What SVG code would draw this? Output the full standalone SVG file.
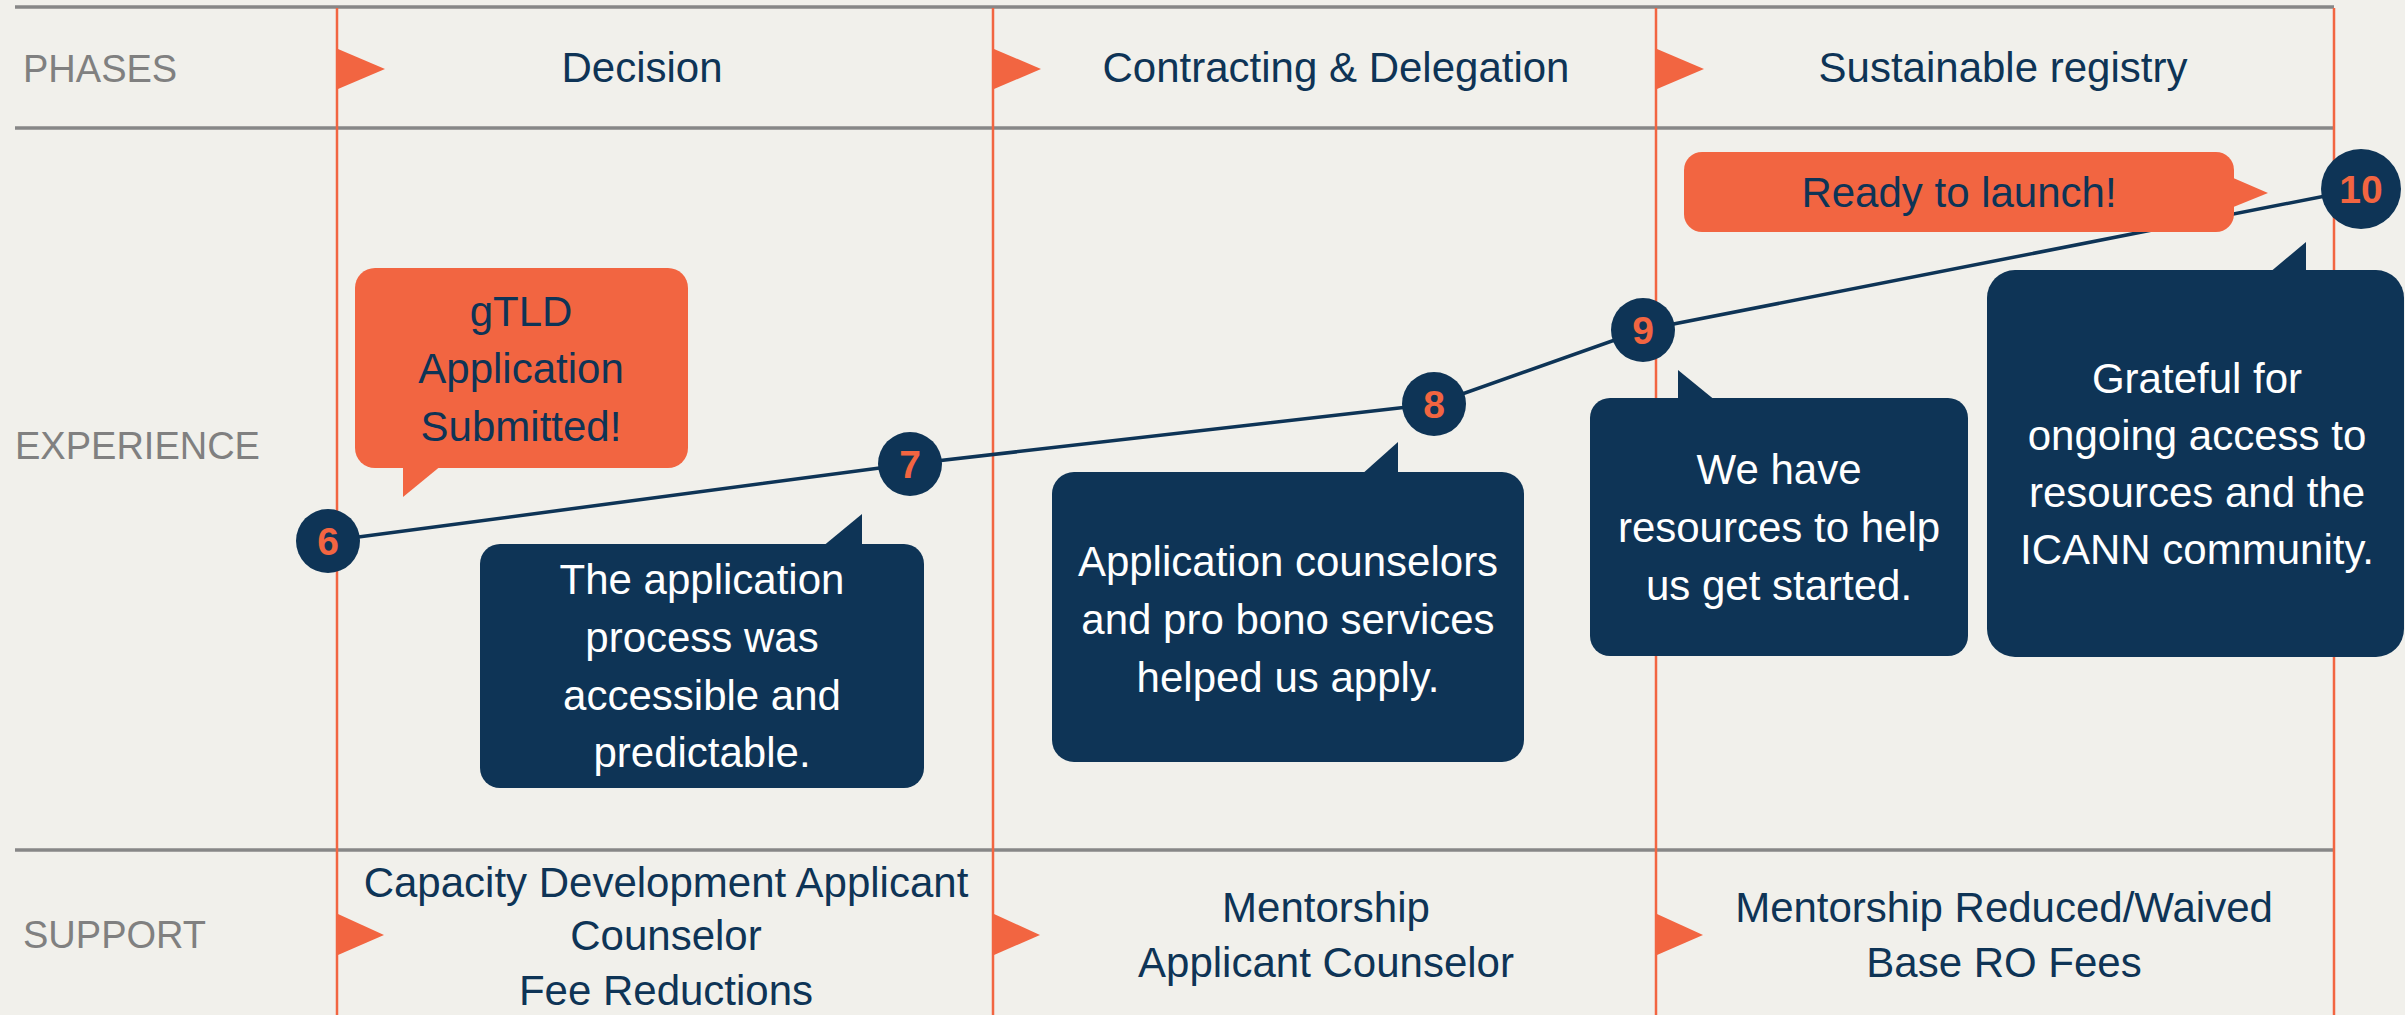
<svg xmlns="http://www.w3.org/2000/svg" width="2405" height="1015" viewBox="0 0 2405 1015">
<style>
.hl{stroke:#878787;stroke-width:3.5;fill:none}
.vl{stroke:#F26541;stroke-width:2.5;fill:none}
.flag{fill:#F26541}
.lbl{font-family:"Liberation Sans",Arial,sans-serif;font-size:38px;fill:#808080}
.t{font-family:"Liberation Sans",Arial,sans-serif;font-size:42px;text-anchor:middle}
.navy{fill:#0E3456}
.white{fill:#FFFFFF}
.orange{fill:#F26541}
.num{font-family:"Liberation Sans",Arial,sans-serif;font-size:39px;font-weight:bold;fill:#F26541;text-anchor:middle}
.conn{stroke:#0E3456;stroke-width:3.5;fill:none}
</style>
<rect x="0" y="0" width="2405" height="1015" fill="#F1F0EB"/>
<g id="grid">
<line class="hl" x1="15" y1="7" x2="2334" y2="7"/>
<line class="hl" x1="15" y1="128" x2="2334" y2="128"/>
<line class="hl" x1="15" y1="850" x2="2334" y2="850"/>
<line class="vl" x1="337" y1="8" x2="337" y2="1015"/>
<line class="vl" x1="993" y1="8" x2="993" y2="1015"/>
<line class="vl" x1="1656" y1="8" x2="1656" y2="1015"/>
<line class="vl" x1="2334" y1="8" x2="2334" y2="1015"/>
</g>
<g id="flags">
<polygon class="flag" points="338,49 385,69 338,89"/>
<polygon class="flag" points="994,49 1041,69 994,89"/>
<polygon class="flag" points="1657,49 1704,69 1657,89"/>
<polygon class="flag" points="338,914 384,935 338,955"/>
<polygon class="flag" points="994,914 1040,935 994,955"/>
<polygon class="flag" points="1657,914 1703,935 1657,955"/>
</g>
<g id="row-labels">
<text class="lbl" x="23" y="82">PHASES</text>
<text class="lbl" x="15" y="459">EXPERIENCE</text>
<text class="lbl" x="23" y="948">SUPPORT</text>
</g>
<g id="phases">
<text class="t navy" x="642" y="82">Decision</text>
<text class="t navy" x="1336" y="82">Contracting &amp; Delegation</text>
<text class="t navy" x="2003" y="82">Sustainable registry</text>
</g>
<g id="support">
<text class="t navy" x="666" y="897">Capacity Development Applicant</text>
<text class="t navy" x="666" y="950">Counselor</text>
<text class="t navy" x="666" y="1005">Fee Reductions</text>
<text class="t navy" x="1326" y="922">Mentorship</text>
<text class="t navy" x="1326" y="977">Applicant Counselor</text>
<text class="t navy" x="2004" y="922">Mentorship Reduced/Waived</text>
<text class="t navy" x="2004" y="977">Base RO Fees</text>
</g>
<g id="connectors">
<polyline class="conn" points="328,541 910,464 1434,404 1643,330 2361,189"/>
</g>
<g id="step6"><circle class="navy" cx="328" cy="541" r="32"/><text class="num" x="328" y="555">6</text></g>
<g id="step7"><circle class="navy" cx="910" cy="464" r="32"/><text class="num" x="910" y="478">7</text></g>
<g id="step8"><circle class="navy" cx="1434" cy="404" r="32"/><text class="num" x="1434" y="418">8</text></g>
<g id="step9"><circle class="navy" cx="1643" cy="330" r="32"/><text class="num" x="1643" y="344">9</text></g>
<g id="step10"><circle class="navy" cx="2361" cy="189" r="40"/><text class="num" x="2361" y="203">10</text></g>
<g id="callout-submitted">
<rect class="orange" x="355" y="268" width="333" height="200" rx="20"/>
<polygon class="orange" points="403,465 442,465 403,497"/>
<text class="t navy" x="521" y="326">gTLD</text>
<text class="t navy" x="521" y="383">Application</text>
<text class="t navy" x="521" y="441">Submitted!</text>
</g>
<g id="callout-accessible">
<rect class="navy" x="480" y="544" width="444" height="244" rx="20"/>
<polygon class="navy" points="822,547 862,547 862,514"/>
<text class="t white" x="702" y="594">The application</text>
<text class="t white" x="702" y="652">process was</text>
<text class="t white" x="702" y="710">accessible and</text>
<text class="t white" x="702" y="767">predictable.</text>
</g>
<g id="callout-counselors">
<rect class="navy" x="1052" y="472" width="472" height="290" rx="22"/>
<polygon class="navy" points="1361,475 1398,475 1398,442"/>
<text class="t white" x="1288" y="576">Application counselors</text>
<text class="t white" x="1288" y="634">and pro bono services</text>
<text class="t white" x="1288" y="692">helped us apply.</text>
</g>
<g id="callout-resources">
<rect class="navy" x="1590" y="398" width="378" height="258" rx="20"/>
<polygon class="navy" points="1678,401 1716,401 1678,370"/>
<text class="t white" x="1779" y="484">We have</text>
<text class="t white" x="1779" y="542">resources to help</text>
<text class="t white" x="1779" y="600">us get started.</text>
</g>
<g id="callout-grateful">
<rect class="navy" x="1987" y="270" width="417" height="387" rx="28"/>
<polygon class="navy" points="2269,273 2306,273 2306,242"/>
<text class="t white" x="2197" y="393">Grateful for</text>
<text class="t white" x="2197" y="450">ongoing access to</text>
<text class="t white" x="2197" y="507">resources and the</text>
<text class="t white" x="2197" y="564">ICANN community.</text>
</g>
<g id="callout-launch">
<rect class="orange" x="1684" y="152" width="550" height="80" rx="18"/>
<polygon class="orange" points="2231,177 2268,193 2231,208"/>
<text class="t navy" x="1959" y="207">Ready to launch!</text>
</g>
</svg>
